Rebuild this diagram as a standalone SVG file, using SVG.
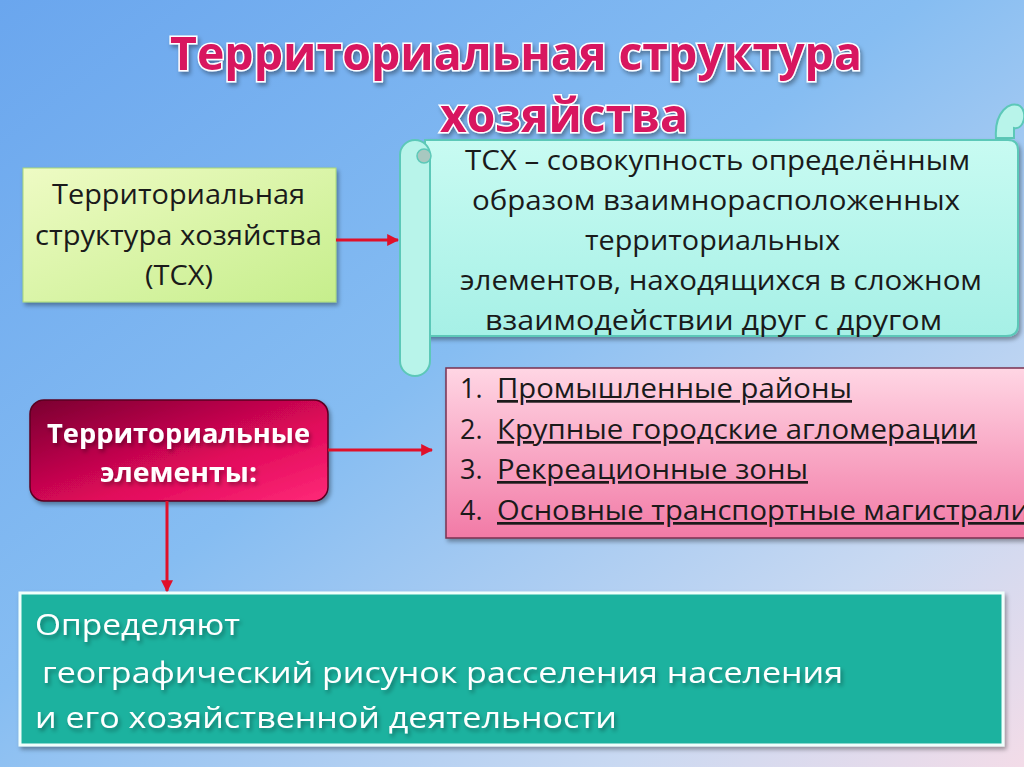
<svg xmlns="http://www.w3.org/2000/svg" width="1024" height="767" viewBox="0 0 1024 767">
<defs>
<linearGradient id="bg" x1="0" y1="0" x2="1" y2="1">
<stop offset="0" stop-color="#6aa6ee"/>
<stop offset="0.45" stop-color="#86bdf2"/>
<stop offset="0.8" stop-color="#c9d9f2"/>
<stop offset="1" stop-color="#f3dce8"/>
</linearGradient>
<linearGradient id="green" x1="0" y1="0" x2="1" y2="1">
<stop offset="0" stop-color="#eefbc4"/>
<stop offset="1" stop-color="#c6ee8c"/>
</linearGradient>
<linearGradient id="mag" x1="0" y1="0" x2="1" y2="1">
<stop offset="0" stop-color="#7a0030"/>
<stop offset="0.6" stop-color="#e0085a"/>
<stop offset="1" stop-color="#ff2a78"/>
</linearGradient>
<linearGradient id="pink" x1="0" y1="0" x2="0" y2="1">
<stop offset="0" stop-color="#ffd6e4"/>
<stop offset="1" stop-color="#f27aa6"/>
</linearGradient>
<linearGradient id="cyan" x1="0" y1="0" x2="0" y2="1">
<stop offset="0" stop-color="#c8fbf2"/>
<stop offset="1" stop-color="#a6f0e6"/>
</linearGradient>
<marker id="arr" viewBox="0 0 10 10" refX="9" refY="5" markerWidth="4" markerHeight="4" orient="auto">
<path d="M0,0 L10,5 L0,10 z" fill="#e0102a"/>
</marker>
<filter id="sh" x="-10%" y="-10%" width="120%" height="130%">
<feDropShadow dx="2" dy="3" stdDeviation="2" flood-color="#000" flood-opacity="0.35"/>
</filter>
</defs>
<style>
.t{font-family:"Open Sans","Noto Sans",sans-serif;fill:#1a1a1a;font-size:27px}
.title{font-family:"Open Sans","Noto Sans",sans-serif;font-weight:bold;font-size:46px;fill:#d8145e;stroke:#ffffff;stroke-width:3;paint-order:stroke;filter:url(#sh)}
.w{font-family:"Open Sans","Noto Sans",sans-serif;font-weight:bold;fill:#ffffff;font-size:27px;filter:url(#sh)}
.wt{font-family:"Open Sans","Noto Sans",sans-serif;fill:#ffffff;font-size:30px;filter:url(#sh)}
.u{text-decoration:underline}
.conn{stroke:#e0102a;stroke-width:3;fill:none;marker-end:url(#arr)}
</style>
<rect width="1024" height="767" fill="url(#bg)"/>
<g id="title">
<text class="title" x="170" y="70" textLength="692" lengthAdjust="spacingAndGlyphs">Территориальная структура</text>
<text class="title" x="440" y="132" textLength="248" lengthAdjust="spacingAndGlyphs">хозяйства</text>
</g>
<g id="scroll">
<path d="M996,138 C994,112 1010,100 1020,106 C1028,112 1024,130 1014,128 L1014,138 Z" fill="#b8f4ea" stroke="#5cc8b8" stroke-width="2"/>
<path d="M425,140 L1008,140 Q1018,140 1018,150 L1018,325 Q1018,336 1006,336 L425,336 Z" fill="url(#cyan)" stroke="#5cc8b8" stroke-width="2" filter="url(#sh)"/>
<rect x="400" y="140" width="30" height="236" rx="15" fill="#b8f4ea" stroke="#5cc8b8" stroke-width="2"/>
<circle cx="424" cy="156" r="7" fill="#a8c8c0" stroke="#5cc8b8" stroke-width="1.5"/>
<text class="t" x="465" y="170" textLength="505" lengthAdjust="spacingAndGlyphs">ТСХ – совокупность определённым</text>
<text class="t" x="472" y="210" textLength="488" lengthAdjust="spacingAndGlyphs">образом взаимнорасположенных</text>
<text class="t" x="585" y="250" textLength="255" lengthAdjust="spacingAndGlyphs">территориальных</text>
<text class="t" x="460" y="290" textLength="522" lengthAdjust="spacingAndGlyphs">элементов, находящихся в сложном</text>
<text class="t" x="485" y="330" textLength="457" lengthAdjust="spacingAndGlyphs">взаимодействии друг с другом</text>
</g>
<g id="tsx">
<rect x="23" y="168" width="313" height="134" fill="url(#green)" stroke="#a8d878" stroke-width="1" filter="url(#sh)"/>
<text class="t" x="52" y="204" textLength="253" lengthAdjust="spacingAndGlyphs">Территориальная</text>
<text class="t" x="35" y="245" textLength="287" lengthAdjust="spacingAndGlyphs">структура хозяйства</text>
<text class="t" x="145" y="285" textLength="68" lengthAdjust="spacingAndGlyphs">(ТСХ)</text>
</g>
<g id="elements">
<rect x="30" y="400" width="298" height="101" rx="14" fill="url(#mag)" stroke="#5a0020" stroke-width="1.5" filter="url(#sh)"/>
<text class="w" x="47" y="443" textLength="263" lengthAdjust="spacingAndGlyphs">Территориальные</text>
<text class="w" x="100" y="482" textLength="157" lengthAdjust="spacingAndGlyphs">элементы:</text>
</g>
<g id="list">
<rect x="446" y="368" width="590" height="170" fill="url(#pink)" stroke="#7a3050" stroke-width="1.5" filter="url(#sh)"/>
<text class="t" x="460" y="398">1.</text>
<text class="t u" x="497" y="398" textLength="355" lengthAdjust="spacingAndGlyphs">Промышленные районы</text>
<text class="t" x="460" y="439">2.</text>
<text class="t u" x="497" y="439" textLength="480" lengthAdjust="spacingAndGlyphs">Крупные городские агломерации</text>
<text class="t" x="460" y="479">3.</text>
<text class="t u" x="497" y="479" textLength="311" lengthAdjust="spacingAndGlyphs">Рекреационные зоны</text>
<text class="t" x="460" y="520">4.</text>
<text class="t u" x="497" y="520" textLength="532" lengthAdjust="spacingAndGlyphs">Основные транспортные магистрали</text>
</g>
<g id="result">
<rect x="20" y="593" width="983" height="152" fill="#1fb29f" stroke="#f0fffc" stroke-width="3" filter="url(#sh)"/>
<text class="wt" x="35" y="635" textLength="205" lengthAdjust="spacingAndGlyphs">Определяют</text>
<text class="wt" x="42" y="683" textLength="801" lengthAdjust="spacingAndGlyphs">географический рисунок расселения населения</text>
<text class="wt" x="35" y="728" textLength="582" lengthAdjust="spacingAndGlyphs">и его хозяйственной  деятельности</text>
</g>
<g id="connectors">
<line class="conn" x1="336" y1="240" x2="398" y2="240"/>
<line class="conn" x1="328" y1="450" x2="432" y2="450"/>
<line class="conn" x1="167" y1="501" x2="167" y2="591"/>
</g>
</svg>
